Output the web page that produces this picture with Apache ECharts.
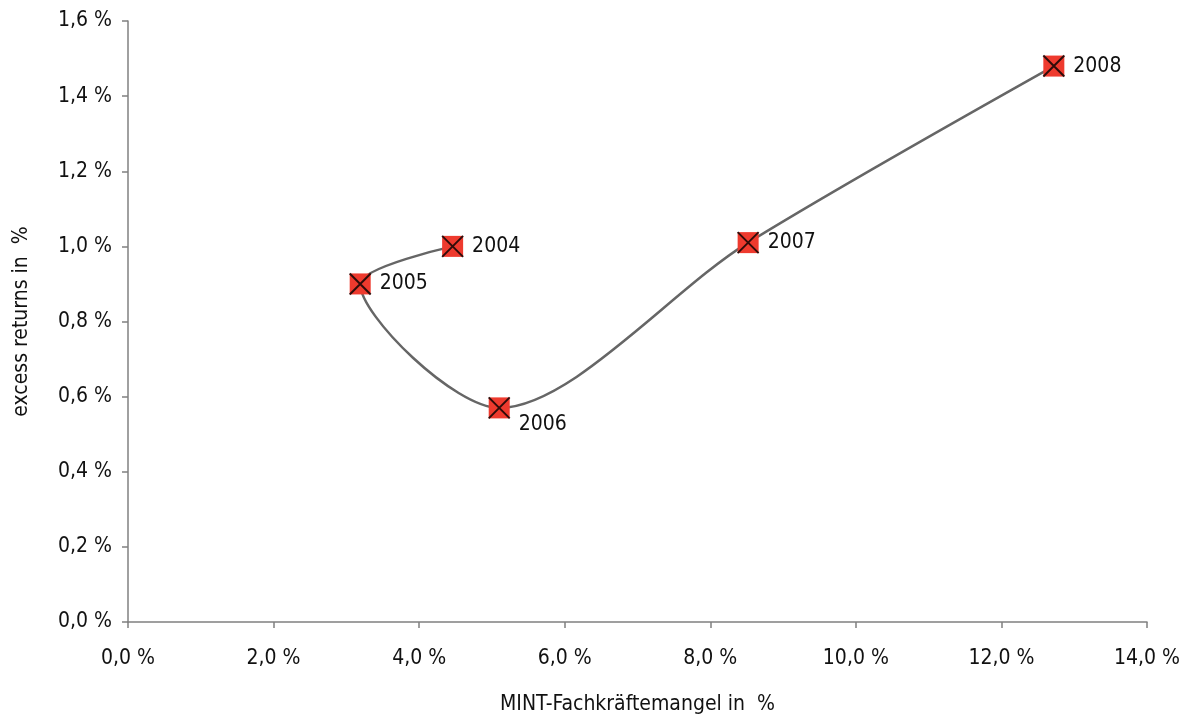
<!DOCTYPE html>
<html>
<head>
<meta charset="utf-8">
<script src="https://cdn.jsdelivr.net/npm/echarts@6/dist/echarts.min.js"></script>
<style>
  html, body { margin: 0; padding: 0; background: #fff; }
  #chart { width: 1187px; height: 720px; }
</style>
</head>
<body>
<div id="chart"></div>
<script>
// Years shown as point labels
const years = ['2004', '2005', '2006', '2007', '2008'];
// MINT-Fachkräftemangel in % (x)
const shortage = [4.46, 3.19, 5.10, 8.52, 12.72];
// excess returns in % (y)
const excessReturns = [1.00, 0.90, 0.57, 1.01, 1.48];
// Axis ranges and tick steps
const xTicks = { min: 0, max: 14, interval: 2 };
const yTicks = { min: 0, max: 1.6, interval: 0.2 };

const FONT = "'Liberation Sans Narrow', 'DejaVu Sans Condensed', 'Noto Sans', sans-serif";
const FS = 21;
const pct = (v, d) => v.toFixed(d).replace('.', ',') + ' %';

const points = shortage.map((x, i) => [x, excessReturns[i], years[i]]);
// the 2006 label sits below the curve, to the lower right of its marker
const labelled = points.map(p => p[2] === '2006'
  ? { value: p, label: { offset: [0, 17] } }
  : { value: p });

const chart = echarts.init(document.getElementById('chart'), null, { renderer: 'canvas' });
chart.setOption({
  animation: false,
  backgroundColor: '#fff',
  textStyle: { fontFamily: FONT },
  grid: { left: 128, right: 40, top: 21, bottom: 98, containLabel: false, outerBoundsMode: 'none' },
  xAxis: {
    type: 'value',
    min: xTicks.min, max: xTicks.max, interval: xTicks.interval,
    name: 'MINT-Fachkräftemangel in  %',
    nameLocation: 'middle', nameGap: 72,
    nameTextStyle: { fontFamily: FONT, fontSize: FS, color: '#111' },
    axisLine: { show: true, lineStyle: { color: '#808080', width: 1.5 } },
    axisTick: { show: true, length: 6, lineStyle: { color: '#808080', width: 1.5 } },
    axisLabel: { margin: 26, fontFamily: FONT, fontSize: FS, color: '#111',
                 formatter: v => pct(v, 1) },
    splitLine: { show: false }
  },
  yAxis: {
    type: 'value',
    min: yTicks.min, max: yTicks.max, interval: yTicks.interval,
    name: 'excess returns in  %',
    nameLocation: 'middle', nameGap: 96, nameRotate: 90,
    nameTextStyle: { fontFamily: FONT, fontSize: FS, color: '#111' },
    axisLine: { show: true, lineStyle: { color: '#808080', width: 1.5 } },
    axisTick: { show: true, length: 6, lineStyle: { color: '#808080', width: 1.5 } },
    axisLabel: { margin: 16, fontFamily: FONT, fontSize: FS, color: '#111',
                 formatter: v => pct(v, 1) },
    splitLine: { show: false }
  },
  series: [
    {
      type: 'line',
      data: points,
      smooth: 0.3,
      showSymbol: false,
      lineStyle: { color: '#666', width: 2.5 },
      z: 2
    },
    {
      type: 'scatter',
      data: labelled,
      symbol: 'rect',
      symbolSize: 21,
      itemStyle: { color: '#ee3a2e', opacity: 1 },
      label: {
        show: true,
        position: 'right',
        distance: 9,
        formatter: p => p.value[2],
        fontFamily: FONT, fontSize: FS, color: '#111'
      },
      z: 3
    },
    {
      type: 'scatter',
      data: points,
      symbol: 'path://M0,0L10,10M10,0L0,10',
      symbolSize: 21,
      itemStyle: { color: 'rgba(0,0,0,0)', borderColor: '#000', borderWidth: 2 },
      z: 4,
      silent: true
    }
  ]
});
</script>
</body>
</html>
